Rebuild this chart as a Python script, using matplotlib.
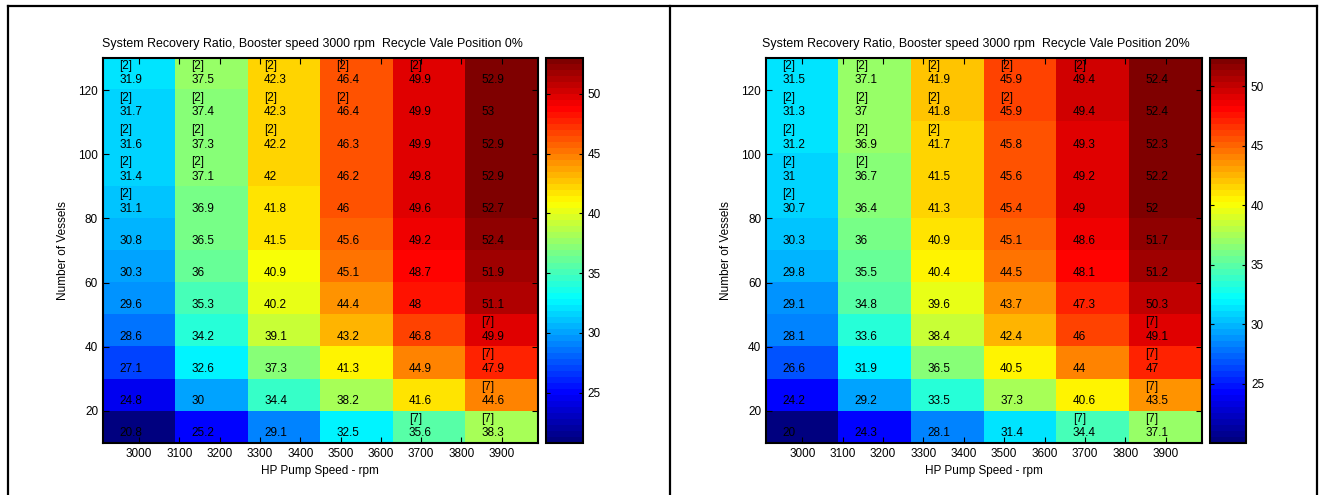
import numpy as np
import matplotlib
matplotlib.use("Agg")
import matplotlib.pyplot as plt
from matplotlib.lines import Line2D
from matplotlib.colors import ListedColormap

plt.rcParams['font.family'] = ['Liberation Sans', 'DejaVu Sans']

# HP pump speed (column centres) and number of vessels (row centres, top to bottom)
speeds = [3000, 3180, 3360, 3540, 3720, 3900]
vessels = [125, 115, 105, 95, 85, 75, 65, 55, 45, 35, 25, 15]

# recovery ratio, recycle valve 0%
rec_0 = [
    [31.9, 37.5, 42.3, 46.4, 49.9, 52.9],
    [31.7, 37.4, 42.3, 46.4, 49.9, 53],
    [31.6, 37.3, 42.2, 46.3, 49.9, 52.9],
    [31.4, 37.1, 42, 46.2, 49.8, 52.9],
    [31.1, 36.9, 41.8, 46, 49.6, 52.7],
    [30.8, 36.5, 41.5, 45.6, 49.2, 52.4],
    [30.3, 36, 40.9, 45.1, 48.7, 51.9],
    [29.6, 35.3, 40.2, 44.4, 48, 51.1],
    [28.6, 34.2, 39.1, 43.2, 46.8, 49.9],
    [27.1, 32.6, 37.3, 41.3, 44.9, 47.9],
    [24.8, 30, 34.4, 38.2, 41.6, 44.6],
    [20.8, 25.2, 29.1, 32.5, 35.6, 38.3],
]

# recovery ratio, recycle valve 20%
rec_20 = [
    [31.5, 37.1, 41.9, 45.9, 49.4, 52.4],
    [31.3, 37, 41.8, 45.9, 49.4, 52.4],
    [31.2, 36.9, 41.7, 45.8, 49.3, 52.3],
    [31, 36.7, 41.5, 45.6, 49.2, 52.2],
    [30.7, 36.4, 41.3, 45.4, 49, 52],
    [30.3, 36, 40.9, 45.1, 48.6, 51.7],
    [29.8, 35.5, 40.4, 44.5, 48.1, 51.2],
    [29.1, 34.8, 39.6, 43.7, 47.3, 50.3],
    [28.1, 33.6, 38.4, 42.4, 46, 49.1],
    [26.6, 31.9, 36.5, 40.5, 44, 47],
    [24.2, 29.2, 33.5, 37.3, 40.6, 43.5],
    [20, 24.3, 28.1, 31.4, 34.4, 37.1],
]

# constraint flags shown above the values (same for both panels)
flags = [
    ['[2]', '[2]', '[2]', '[2]', '[2]', ''],
    ['[2]', '[2]', '[2]', '[2]', '', ''],
    ['[2]', '[2]', '[2]', '', '', ''],
    ['[2]', '[2]', '', '', '', ''],
    ['[2]', '', '', '', '', ''],
    ['', '', '', '', '', ''],
    ['', '', '', '', '', ''],
    ['', '', '', '', '', ''],
    ['', '', '', '', '', '[7]'],
    ['', '', '', '', '', '[7]'],
    ['', '', '', '', '', '[7]'],
    ['', '', '', '', '[7]', '[7]'],
]

positions = ['0%', '20%']
panels = [rec_0, rec_20]

# matlab style jet, 64 levels
t = np.linspace(0, 1, 64)
r = np.clip(1.5 - np.abs(4 * t - 3), 0, 1)
g = np.clip(1.5 - np.abs(4 * t - 2), 0, 1)
b = np.clip(1.5 - np.abs(4 * t - 1), 0, 1)
mjet = ListedColormap(np.column_stack([r, g, b]))

fig = plt.figure(figsize=(13.2, 4.95), dpi=100)

ax_rects = [[0.078, 0.105, 0.3295, 0.778], [0.5803, 0.105, 0.3303, 0.778]]
cb_rects = [[0.4136, 0.105, 0.028, 0.778], [0.9167, 0.105, 0.0273, 0.778]]

dx = (speeds[1] - speeds[0]) / 2.0
dy = (vessels[0] - vessels[1]) / 2.0
fs = 8.5

for k in range(2):
    data = np.array(panels[k])
    ax = fig.add_axes(ax_rects[k])
    im = ax.imshow(data, cmap=mjet, aspect='auto', interpolation='nearest',
                   extent=[speeds[0] - dx, speeds[-1] + dx,
                           vessels[-1] - dy, vessels[0] + dy],
                   vmin=data.min(), vmax=data.max())
    for i, v in enumerate(vessels):
        for j, s in enumerate(speeds):
            ax.text(s - 50, v - 2.0, '%g' % data[i][j], fontsize=fs,
                    ha='left', va='center', color='black')
            if flags[i][j]:
                ax.text(s - 50, v + 2.6, flags[i][j], fontsize=fs,
                        ha='left', va='center', color='black')
    ax.set_xticks(range(3000, 4000, 100))
    ax.set_yticks(range(20, 140, 20))
    ax.tick_params(direction='in', top=True, right=True, length=4,
                   labelsize=fs, colors='black')
    for sp in ax.spines.values():
        sp.set_linewidth(1.5)
    ax.set_xlabel('HP Pump Speed - rpm', fontsize=fs, labelpad=4)
    ax.set_ylabel('Number of Vessels', fontsize=fs, labelpad=7)
    ax.set_title('System Recovery Ratio, Booster speed 3000 rpm  '
                 'Recycle Vale Position ' + positions[k], fontsize=8.9,
                 pad=8, x=0.482)

    cax = fig.add_axes(cb_rects[k])
    cb = fig.colorbar(im, cax=cax, ticks=range(25, 55, 5))
    cax.tick_params(direction='in', left=True, right=True, length=3,
                    labelsize=fs)
    cb.outline.set_linewidth(1.5)

# outer frame and divider
frame = dict(color='black', linewidth=1.6, transform=fig.transFigure)
fig.add_artist(Line2D([8 / 1320, 1317 / 1320], [1 - 6 / 495, 1 - 6 / 495], **frame))
fig.add_artist(Line2D([8 / 1320, 8 / 1320], [0, 1 - 6 / 495], **frame))
fig.add_artist(Line2D([1317 / 1320, 1317 / 1320], [0, 1 - 6 / 495], **frame))
fig.add_artist(Line2D([670 / 1320, 670 / 1320], [0, 1 - 6 / 495], **frame))

fig.savefig('out.png', dpi=100)
